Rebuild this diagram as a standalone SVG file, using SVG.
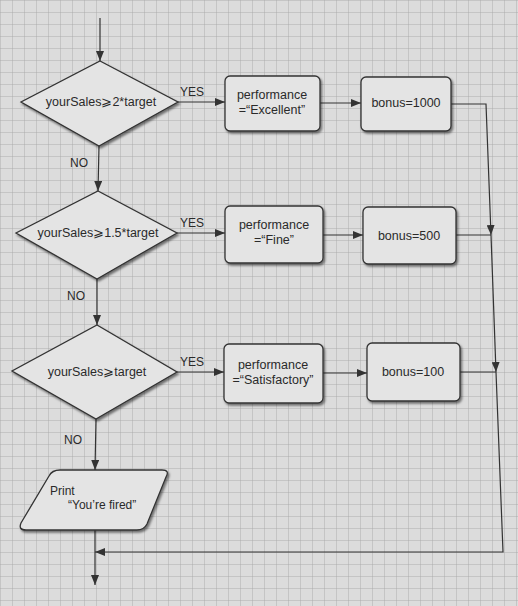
<svg xmlns="http://www.w3.org/2000/svg" width="518" height="606" viewBox="0 0 518 606">
<defs>
<pattern id="grid" width="12" height="12" patternUnits="userSpaceOnUse">
<path d="M 12 0 L 0 0 0 12" fill="none" stroke="#a8a8a8" stroke-width="0.9"/>
</pattern>
<filter id="sh" x="-10%" y="-10%" width="125%" height="130%">
<feDropShadow dx="1.5" dy="2" stdDeviation="1.2" flood-color="#000" flood-opacity="0.5"/>
</filter>
<marker id="ah" viewBox="0 0 10 8" refX="10" refY="4" markerWidth="10" markerHeight="8" markerUnits="userSpaceOnUse" orient="auto">
<path d="M0,0 L10,4 L0,8 Z" fill="#333"/>
</marker>
</defs>
<style>
.n{fill:#e4e4e4;stroke:#333;stroke-width:1.3;filter:url(#sh)}
.t{font-family:"Liberation Sans",Arial,sans-serif;font-size:12.5px;fill:#2a2a2a;text-anchor:middle}
.l{font-family:"Liberation Sans",Arial,sans-serif;font-size:12px;fill:#2a2a2a}
.c{fill:none;stroke:#333;stroke-width:1.2}
</style>
<rect width="518" height="606" fill="#dcdcdc"/>
<rect width="518" height="606" fill="url(#grid)"/>

<g id="connectors">
<path class="c" d="M100,18 L100,61" marker-end="url(#ah)"/>
<path class="c" d="M99,146 L98,191" marker-end="url(#ah)"/>
<path class="c" d="M97,279 L97,325" marker-end="url(#ah)"/>
<path class="c" d="M96,419 L95,470" marker-end="url(#ah)"/>
<path class="c" d="M95,530 L95,585" marker-end="url(#ah)"/>
<path class="c" d="M178,102 L225,102" marker-end="url(#ah)"/>
<path class="c" d="M177,233 L225,233" marker-end="url(#ah)"/>
<path class="c" d="M177,372 L224,372" marker-end="url(#ah)"/>
<path class="c" d="M320,103 L361,103" marker-end="url(#ah)"/>
<path class="c" d="M323,235 L363,235" marker-end="url(#ah)"/>
<path class="c" d="M323,373 L367,373" marker-end="url(#ah)"/>
<path class="c" d="M451,104 L486,104 L491,235" marker-end="url(#ah)"/>
<path class="c" d="M456,235 L491,235"/>
<path class="c" d="M491,235 L496,372" marker-end="url(#ah)"/>
<path class="c" d="M460,372 L496,372"/>
<path class="c" d="M496,372 L503,552 L95,552" marker-end="url(#ah)"/>
<text class="l" x="180" y="96">YES</text>
<text class="l" x="180" y="227">YES</text>
<text class="l" x="180" y="366">YES</text>
<text class="l" x="70" y="167">NO</text>
<text class="l" x="67" y="300">NO</text>
<text class="l" x="64" y="444">NO</text>
</g>

<g id="decision1">
<polygon class="n" points="100,61 178,102 99,146 21,102"/>
<text class="t" x="101" y="106">yourSales⩾2*target</text>
</g>
<g id="decision2">
<polygon class="n" points="98,191 177,233 97,279 16,233"/>
<text class="t" x="98" y="237">yourSales⩾1.5*target</text>
</g>
<g id="decision3">
<polygon class="n" points="97,325 177,372 96,419 12,371"/>
<text class="t" x="97" y="376">yourSales⩾target</text>
</g>

<g id="perf1">
<rect class="n" x="225" y="76" width="95" height="55" rx="5"/>
<text class="t" x="272" y="99">performance</text>
<text class="t" x="272" y="114">=“Excellent”</text>
</g>
<g id="bonus1">
<rect class="n" x="361" y="77" width="90" height="54" rx="5"/>
<text class="t" x="406" y="107">bonus=1000</text>
</g>
<g id="perf2">
<rect class="n" x="225" y="206" width="98" height="57" rx="5"/>
<text class="t" x="274" y="229">performance</text>
<text class="t" x="274" y="244">=“Fine”</text>
</g>
<g id="bonus2">
<rect class="n" x="363" y="207" width="93" height="57" rx="5"/>
<text class="t" x="409" y="240">bonus=500</text>
</g>
<g id="perf3">
<rect class="n" x="224" y="344" width="99" height="59" rx="5"/>
<text class="t" x="273" y="369">performance</text>
<text class="t" x="273" y="384">=“Satisfactory”</text>
</g>
<g id="bonus3">
<rect class="n" x="367" y="343" width="93" height="58" rx="5"/>
<text class="t" x="413" y="376">bonus=100</text>
</g>

<g id="print">
<path class="n" d="M60,470 L162,470 Q170,470 166,477 L147,524 Q144,530 137,530 L26,530 Q18,530 21,523 L49,476 Q52,470 60,470 Z"/>
<text class="l" x="50" y="495">Print</text>
<text class="l" x="68" y="509">“You’re fired”</text>
</g>
</svg>
